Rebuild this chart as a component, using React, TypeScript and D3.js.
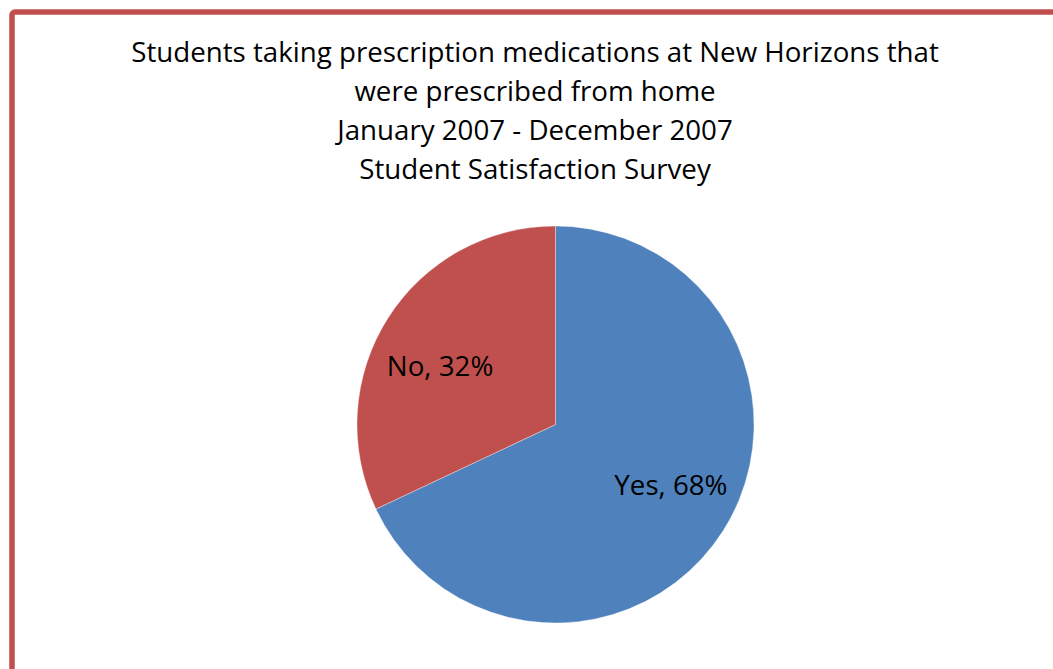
import React from "react";
import * as d3 from "d3";

const titleLines = [
  "Students taking prescription medications at New Horizons that",
  "were prescribed from home",
  "January 2007 - December 2007",
  "Student Satisfaction Survey",
];
const categories = ["Yes", "No"];
const values = [68, 32];
const colors = ["#4F81BD", "#C0504D"];

export default function App() {
  const W = 1053, H = 669;
  const cx = 555.5, cy = 424.5, r = 198.5;
  const pie = d3.pie<number>().sort(null).value((d) => d);
  const arcs = pie(values);
  const arc = d3.arc<d3.PieArcDatum<number>>().innerRadius(0).outerRadius(r);
  const labelPos = (a: d3.PieArcDatum<number>) => {
    const ang = (a.startAngle + a.endAngle) / 2 - (5 * Math.PI) / 180;
    const lr = r * 0.655;
    return [lr * Math.sin(ang), -lr * Math.cos(ang)];
  };
  return (
    <svg width={W} height={H} style={{ position: "absolute", left: 0, top: 0 }} fontFamily="'Open Sans', sans-serif">
      <rect x={0} y={0} width={W} height={H} fill="#fff" />
      <rect x={12} y={12} width={W + 20} height={H + 20} rx={3} fill="#fff" stroke="#C0504D" strokeWidth={5.5} />
      {titleLines.map((t, i) => (
        <text key={i} x={535} y={62 + i * 39} textAnchor="middle" fontSize={27.7} fill="#000">
          {t}
        </text>
      ))}
      <g transform={`translate(${cx},${cy})`}>
        {arcs.map((a, i) => (
          <path key={i} d={arc(a) || ""} fill={colors[i]} stroke="#fff" strokeOpacity={0.5} strokeWidth={0.7} />
        ))}
        {arcs.map((a, i) => {
          const [x, y] = labelPos(a);
          return (
            <text key={"l" + i} x={x} y={y} textAnchor="middle" dominantBaseline="central" fontSize={27.7} fill="#000">
              {`${categories[i]}, ${values[i]}%`}
            </text>
          );
        })}
      </g>
    </svg>
  );
}
